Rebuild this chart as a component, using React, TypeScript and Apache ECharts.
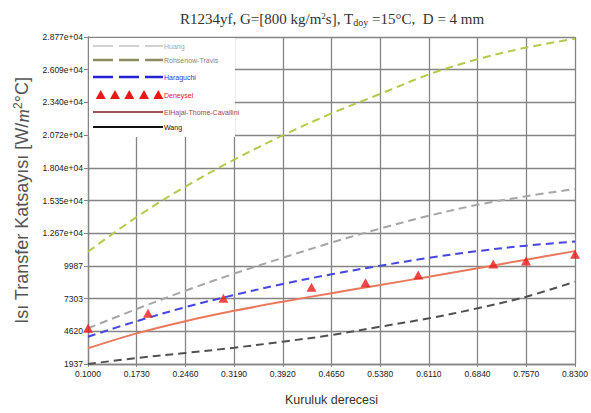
import React, { useEffect, useRef } from "react";
import * as echarts from "echarts";

// ---- data ----
const X_TICKS = [0.1, 0.173, 0.246, 0.319, 0.392, 0.465, 0.538, 0.611, 0.684, 0.757, 0.83];
const X_LABELS = ["0.1000", "0.1730", "0.2460", "0.3190", "0.3920", "0.4650", "0.5380", "0.6110", "0.6840", "0.7570", "0.8300"];
const Y_LABELS = ["1937", "4620", "7303", "9987", "1.267e+04", "1.535e+04", "1.804e+04", "2.072e+04", "2.340e+04", "2.609e+04", "2.877e+04"];
const X_MIN = 0.1;
const X_STEP = 0.073;
const Y_MIN = 1937;
const Y_STEP = 2683.3;

const HUANG = [4867, 6450, 7950, 9350, 10650, 11900, 13050, 14100, 15000, 15700, 16300];
const ROHSENOW = [11152, 14000, 16500, 18700, 20700, 22500, 24100, 25700, 26950, 27900, 28632];
const HARAGUCHI = [4177, 5450, 6600, 7600, 8500, 9300, 10000, 10650, 11200, 11650, 11980];
const ELHAJAL = [3225, 4450, 5450, 6300, 7050, 7750, 8420, 9100, 9800, 10500, 11200];
const WANG = [1937, 2429, 2840, 3275, 3767, 4317, 5000, 5687, 6508, 7460, 8690];

const EXP_X = [0.1, 0.19, 0.303, 0.435, 0.516, 0.595, 0.7075, 0.7566, 0.83];
const EXP_Y = [4867, 6097, 7328, 8231, 8609, 9240, 10143, 10389, 10939];

const LEGEND_NAMES = ["Huang", "Rohsenow-Travis", "Haraguchi", "Deneysel", "ElHajal-Thome-Cavallini", "Wang"];

const toPts = (xs: number[], ys: number[]) => xs.map((x, i) => [x - X_MIN, ys[i] - Y_MIN]);

export default function App() {
  const ref = useRef<HTMLDivElement>(null);
  useEffect(() => {
    if (!ref.current) return;
    const chart = echarts.init(ref.current, null, { renderer: "svg" });
    const lineSeries = (name: string, ys: number[], color: string, dashed: boolean) => ({
      name,
      type: "line",
      data: toPts(X_TICKS, ys),
      smooth: 0.35,
      showSymbol: false,
      lineStyle: { color, width: 2, type: dashed ? [8, 5] : "solid" },
      z: 3,
    });
    const legendLine = (y: number, color: string, dash: any, width: number) => ({
      type: "line",
      shape: { x1: 93, y1: y, x2: 163, y2: y },
      style: { stroke: color, lineWidth: width, lineDash: dash },
      z: 101,
    });
    const legendText = (y: number, text: string, color: string) => ({
      type: "text",
      x: 164,
      y,
      style: { text, fill: color, fontSize: 7, fontFamily: "Liberation Sans", verticalAlign: "middle", align: "left" },
      z: 101,
    });
    const tri = (cx: number, cy: number) => ({
      type: "polygon",
      shape: { points: [[cx, cy - 5], [cx - 5, cy + 4], [cx + 5, cy + 4]] },
      style: { fill: "#e81818" },
      z: 101,
    });
    chart.setOption({
      animation: false,
      backgroundColor: "#ffffff",
      title: {
        text: "R1234yf, G=[800 kg/m{sup|2}s], T{sub|doy} =15°C,  D = 4 mm",
        left: 175,
        top: 6,
        textStyle: {
          fontFamily: "Liberation Serif",
          fontSize: 15,
          fontWeight: "normal",
          color: "#333",
          rich: {
            sup: { fontFamily: "Liberation Serif", fontSize: 9, verticalAlign: "top", padding: [0, 0, 6, 0], color: "#333" },
            sub: { fontFamily: "Liberation Serif", fontSize: 10, verticalAlign: "bottom", padding: [6, 0, 0, 0], color: "#333" },
          },
        },
      },
      grid: { left: 88, right: 16, top: 37, bottom: 49 },
      xAxis: {
        type: "value",
        min: 0,
        max: X_STEP * 10,
        interval: X_STEP,
        name: "Kuruluk derecesi",
        nameLocation: "middle",
        nameGap: 29,
        nameTextStyle: { fontFamily: "Liberation Sans", fontSize: 12.5, color: "#333" },
        axisLine: { lineStyle: { color: "#858585", width: 1.3 } },
        axisTick: { show: true, length: 3, lineStyle: { color: "#858585" } },
        axisLabel: {
          fontFamily: "Liberation Sans",
          fontSize: 8.5,
          color: "#222",
          margin: 5,
          formatter: (v: number) => X_LABELS[Math.round(v / X_STEP)] ?? "",
        },
        splitLine: { show: true, lineStyle: { color: "#858585", width: 1.3 } },
      },
      yAxis: {
        type: "value",
        min: 0,
        max: Y_STEP * 10,
        interval: Y_STEP,
        name: "Isı Transfer Katsayısı [W/{i|m}{sup|2}°C]",
        nameLocation: "middle",
        nameGap: 55,
        nameTextStyle: {
          fontFamily: "Liberation Sans",
          fontSize: 18,
          color: "#555",
          rich: {
            i: { fontFamily: "Liberation Serif", fontStyle: "italic", fontSize: 19, color: "#555" },
            sup: { fontFamily: "Liberation Sans", fontSize: 12, verticalAlign: "top", padding: [0, 0, 8, 0], color: "#555" },
          },
        },
        axisLine: { show: true, lineStyle: { color: "#858585", width: 1.3 } },
        axisTick: { show: true, length: 4, lineStyle: { color: "#858585" } },
        axisLabel: {
          fontFamily: "Liberation Sans",
          fontSize: 8.5,
          color: "#222",
          margin: 5,
          formatter: (v: number) => Y_LABELS[Math.round(v / Y_STEP)] ?? "",
        },
        splitLine: { show: true, lineStyle: { color: "#858585", width: 1.3 } },
      },
      series: [
        lineSeries(LEGEND_NAMES[0], HUANG, "#a6a6a6", true),
        lineSeries(LEGEND_NAMES[1], ROHSENOW, "#b7c94c", true),
        lineSeries(LEGEND_NAMES[2], HARAGUCHI, "#4646e0", true),
        lineSeries(LEGEND_NAMES[4], ELHAJAL, "#e8795c", false),
        lineSeries(LEGEND_NAMES[5], WANG, "#505050", true),
        {
          name: LEGEND_NAMES[3],
          type: "scatter",
          data: toPts(EXP_X, EXP_Y),
          symbol: "triangle",
          symbolSize: [10, 9],
          itemStyle: { color: "#ec1a1a" },
          clip: false,
          z: 5,
        },
      ],
      graphic: [
        { type: "rect", shape: { x: 89, y: 38, width: 146, height: 99 }, style: { fill: "#ffffff" }, z: 100 },
        legendLine(46, "#c4c4c4", [20, 6], 1.5),
        legendText(46, LEGEND_NAMES[0], "#a8a8a8"),
        legendLine(60, "#8c8c62", [20, 6], 2.5),
        legendText(60, LEGEND_NAMES[1], "#8a8a70"),
        legendLine(77, "#2424d4", [20, 6], 2.5),
        legendText(77, LEGEND_NAMES[2], "#3434e0"),
        tri(100.7, 95),
        tri(115, 95),
        tri(129.3, 95),
        tri(144, 95),
        tri(158.3, 95),
        legendText(95, LEGEND_NAMES[3], "#e02020"),
        legendLine(112, "#a05050", null, 2),
        legendText(112, LEGEND_NAMES[4], "#a04848"),
        legendLine(127, "#111111", null, 2),
        legendText(127, LEGEND_NAMES[5], "#111111"),
      ],
    });
    return () => chart.dispose();
  }, []);
  return <div ref={ref} style={{ position: "absolute", left: 0, top: 0, width: 591, height: 413 }} />;
}
